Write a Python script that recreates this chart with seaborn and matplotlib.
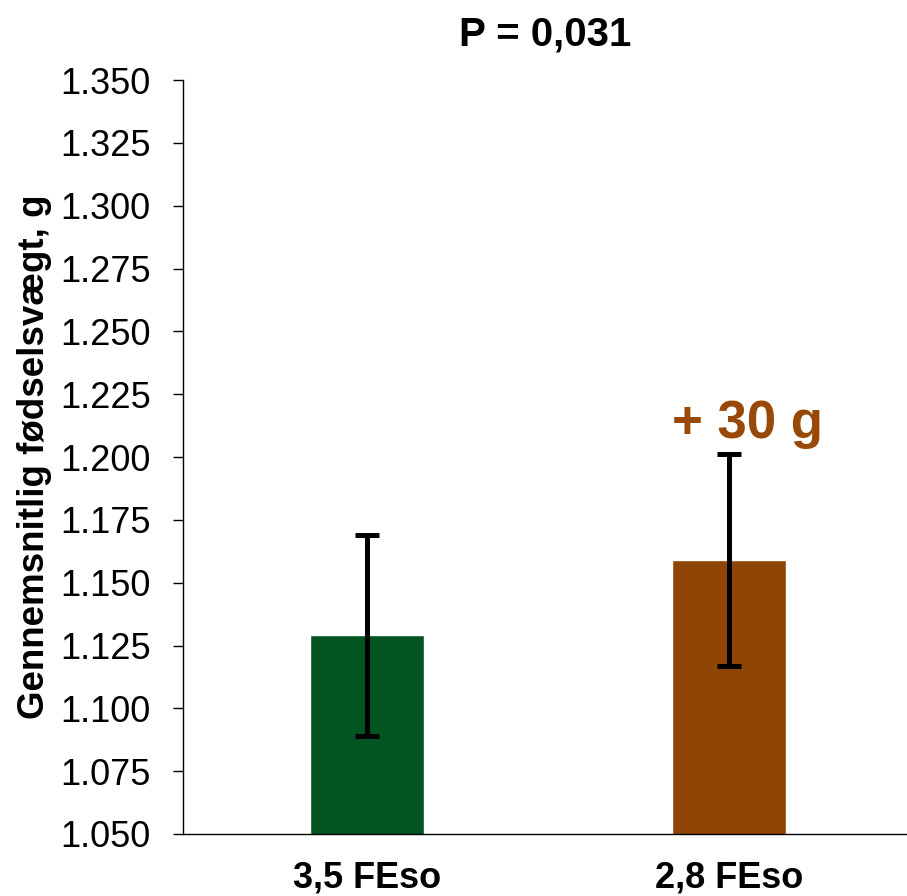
import matplotlib
matplotlib.use("Agg")
import matplotlib.pyplot as plt
import seaborn as sns
import pandas as pd
from matplotlib.ticker import FuncFormatter

groups = ["3,5 FEso", "2,8 FEso"]
mean_weight = [1.129, 1.159]
err_weight = [0.040, 0.042]
bar_colors = ["#025521", "#8F4506"]
y_ticks = [1.050, 1.075, 1.100, 1.125, 1.150, 1.175, 1.200,
           1.225, 1.250, 1.275, 1.300, 1.325, 1.350]

sns.set_style("white")
plt.rcParams["font.family"] = ["Liberation Sans", "DejaVu Sans"]
plt.rcParams["text.color"] = "black"
plt.rcParams["axes.labelcolor"] = "black"
plt.rcParams["xtick.color"] = "black"
plt.rcParams["ytick.color"] = "black"

df = pd.DataFrame({"group": groups, "weight": mean_weight})

fig = plt.figure(figsize=(9.07, 8.96), dpi=100)
ax = fig.add_axes([0.2018, 0.0692, 0.7982, 0.8415])

sns.barplot(data=df, x="group", y="weight", hue="group", palette=bar_colors,
            order=groups, hue_order=groups, width=0.314, errorbar=None,
            saturation=1, legend=False, ax=ax)
ax.errorbar(x=range(len(groups)), y=mean_weight, yerr=err_weight, fmt="none",
            ecolor="black", elinewidth=3.6, capsize=8.5, capthick=3.6)

ax.set_ylim(1.050, 1.350)
ax.set_xlim(-0.507, 1.49)
ax.set_yticks(y_ticks)
ax.yaxis.set_major_formatter(FuncFormatter(lambda v, p: f"{v:.3f}"))
ax.tick_params(axis="y", which="both", left=True, length=7.2, width=1.0,
               pad=16, labelsize=26, color="black", labelcolor="black")
ax.tick_params(axis="x", length=0, pad=19, labelcolor="black")
for lbl in ax.get_xticklabels():
    lbl.set_fontsize(26)
    lbl.set_fontweight("bold")

ax.set_xlabel("")
ax.set_ylabel("Gennemsnitlig fødselsvægt, g", fontsize=26.5, fontweight="bold",
              labelpad=6, color="black")
ax.set_title("P = 0,031", fontsize=29, fontweight="bold", pad=25, color="black")

ax.text(1.05, 1.2076, "+ 30 g", ha="center", va="baseline", fontsize=38,
        fontweight="bold", color="#984807")

for side in ["top", "right"]:
    ax.spines[side].set_visible(False)
for side in ["left", "bottom"]:
    ax.spines[side].set_color("black")
    ax.spines[side].set_linewidth(1.0)

fig.savefig("out.png", dpi=100)
